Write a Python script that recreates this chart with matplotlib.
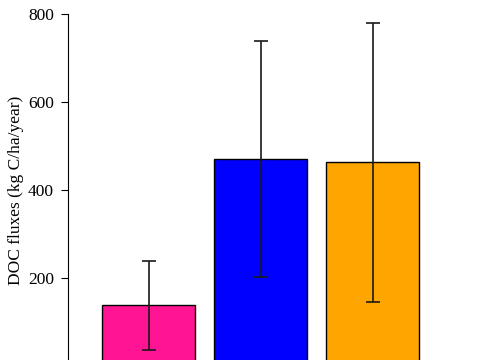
import matplotlib.pyplot as plt
import numpy as np

plt.rcParams['font.family'] = ['Liberation Serif', 'DejaVu Serif']

# Data
groups = ['A', 'B', 'C']
doc_flux = [138, 471, 463]
doc_err = [101, 268, 317]
colours = ['#FF1493', '#0000FF', '#FFA500']

fig = plt.figure(figsize=(4.85, 3.6), dpi=100)
# axes bottom (value 0) sits just below the figure edge, as in the cropped original
ax = fig.add_axes([68 / 485, -6 / 360, 1 - 68 / 485, 352 / 360])

x = np.arange(len(groups))
ax.bar(x, doc_flux, width=0.83, color=colours, edgecolor='black', linewidth=1.0)
ax.errorbar(x, doc_flux, yerr=doc_err, fmt='none', ecolor='#1a1a1a',
            elinewidth=1.2, capsize=5, capthick=1.2)

ax.set_ylim(0, 800)
ax.set_xlim(-0.719, 3.0)
ax.set_yticks([200, 400, 600, 800])
ax.tick_params(axis='y', labelsize=12.5, length=5, width=0.8, pad=5)
ax.set_xticks([])
for s in ['top', 'right', 'bottom']:
    ax.spines[s].set_visible(False)
ax.spines['left'].set_linewidth(0.8)
ax.spines['left'].set_bounds(0, 800)

ax.set_ylabel('DOC fluxes (kg C/ha/year)', fontsize=12.5)
ax.yaxis.set_label_coords(-44 / 417, 0.5)

fig.savefig('out.png', dpi=100)
